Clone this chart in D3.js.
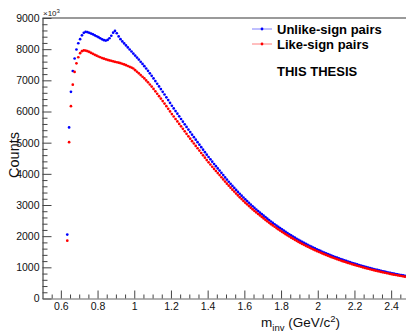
<!DOCTYPE html>
<html>
<head>
<meta charset="utf-8">
<script src="https://cdn.jsdelivr.net/npm/d3@7"></script>
<style>
  html, body { margin: 0; padding: 0; background: #fff; }
  svg { display: block; font-family: "Liberation Sans", Arial, Helvetica, sans-serif; }
</style>
</head>
<body>
<div id="chart"></div>
<script>
// ---------------- DATA ----------------
// invariant-mass bin centres (GeV/c^2)
const massCenters = [
  0.635,0.645,0.655,0.665,0.675,0.685,0.695,0.705,0.715,0.725,0.735,0.745,0.755,0.765,0.775,0.785,0.795,0.805,0.815,0.825,
  0.835,0.845,0.855,0.865,0.875,0.885,0.895,0.905,0.915,0.925,0.935,0.945,0.955,0.965,0.975,0.985,0.995,
  1.005,1.015,1.025,1.035,1.045,1.055,1.065,1.075,1.085,1.095,1.105,1.115,1.125,1.135,1.145,1.155,1.165,1.175,1.185,1.195,
  1.205,1.215,1.225,1.235,1.245,1.255,1.265,1.275,1.285,1.295,1.305,1.315,1.325,1.335,1.345,1.355,1.365,1.375,1.385,1.395,
  1.405,1.415,1.425,1.435,1.445,1.455,1.465,1.475,1.485,1.495,1.505,1.515,1.525,1.535,1.545,1.555,1.565,1.575,1.585,1.595,
  1.605,1.615,1.625,1.635,1.645,1.655,1.665,1.675,1.685,1.695,1.705,1.715,1.725,1.735,1.745,1.755,1.765,1.775,1.785,1.795,
  1.805,1.815,1.825,1.835,1.845,1.855,1.865,1.875,1.885,1.895,1.905,1.915,1.925,1.935,1.945,1.955,1.965,1.975,1.985,1.995,
  2.005,2.015,2.025,2.035,2.045,2.055,2.065,2.075,2.085,2.095,2.105,2.115,2.125,2.135,2.145,2.155,2.165,2.175,2.185,2.195,
  2.205,2.215,2.225,2.235,2.245,2.255,2.265,2.275,2.285,2.295,2.305,2.315,2.325,2.335,2.345,2.355,2.365,2.375,2.385,2.395,
  2.405,2.415,2.425,2.435,2.445,2.455,2.465,2.475,2.485,2.495
];

// Unlike-sign pairs (counts, in units of 10^3)
const unlikeSign = [
  2050,5490,6630,7300,7700,7990,8190,8320,8445,8525,8555,8545,8525,8500,8475,8445,8415,8385,8350,8315,
  8290,8275,8295,8350,8430,8530,8585,8510,8410,8320,8250,8185,8120,8055,7990,7925,7860,
  7795,7730,7665,7595,7525,7455,7380,7305,7225,7145,7060,6975,6890,6805,6720,6630,6545,6455,6365,6275,
  6185,6100,6015,5930,5845,5760,5675,5590,5505,5420,5340,5255,5175,5095,5015,4935,4855,4775,4695,4615,
  4540,4465,4390,4315,4245,4175,4105,4032,3960,3885,3815,3746,3679,3613,3548,3484,3421,3359,3299,3240,
  3182,3125,3069,3014,2960,2907,2855,2804,2754,2705,2656,2608,2561,2515,2470,2426,2382,2339,2297,2256,
  2215,2175,2136,2098,2060,2023,1987,1951,1916,1882,1848,1816,1784,1753,1723,1693,1664,1635,1607,1579,
  1552,1526,1500,1475,1450,1425,1401,1377,1354,1331,1309,1287,1266,1245,1225,1205,1185,1166,1147,1128,
  1110,1092,1075,1058,1041,1024,1008,992,976,960,945,930,916,902,888,874,861,848,835,822,
  809,797,785,773,762,751,740,729,718,707
];

// Like-sign pairs (counts, in units of 10^3)
const likeSign = [
  1855,5015,6170,6860,7270,7545,7740,7870,7935,7960,7955,7935,7910,7880,7850,7820,7790,7765,7740,7715,
  7695,7675,7655,7640,7625,7610,7595,7580,7565,7550,7530,7510,7485,7460,7435,7410,7380,
  7325,7275,7225,7170,7115,7060,6998,6935,6867,6799,6724,6647,6570,6493,6416,6333,6254,6170,6086,6002,
  5918,5839,5760,5681,5602,5523,5443,5364,5284,5204,5129,5048,4973,4897,4821,4745,4669,4593,4517,4441,
  4370,4299,4228,4157,4091,4025,3959,3890,3822,3751,3685,3619,3555,3492,3430,3368,3307,3247,3189,3132,
  3076,3021,2967,2914,2862,2811,2761,2712,2664,2616,2568,2521,2475,2430,2386,2344,2302,2260,2220,2180,
  2140,2101,2063,2026,1989,1953,1918,1883,1849,1816,1783,1752,1721,1691,1662,1633,1605,1577,1550,1523,
  1497,1472,1446,1422,1398,1374,1351,1327,1305,1283,1261,1240,1220,1199,1180,1161,1141,1123,1104,1086,
  1068,1051,1034,1018,1001,985,969,954,938,923,908,894,880,867,853,840,827,815,802,790,
  777,766,754,743,732,722,711,700,690,679
];

const seriesNames = ["Unlike-sign pairs", "Like-sign pairs"];
const seriesColors = ["#0000ff", "#ff0000"];
const legendLineColors = ["#7f7fff", "#ff7f7f"];

const xMajorTicks = [0.6, 0.8, 1.0, 1.2, 1.4, 1.6, 1.8, 2.0, 2.2, 2.4];
const xTickLabels = ["0.6", "0.8", "1", "1.2", "1.4", "1.6", "1.8", "2", "2.2", "2.4"];
const xMinorTicks = [0.55,0.65,0.7,0.75,0.85,0.9,0.95,1.05,1.1,1.15,1.25,1.3,1.35,1.45,1.5,1.55,1.65,1.7,1.75,1.85,1.9,1.95,2.05,2.1,2.15,2.25,2.3,2.35,2.45,2.5];
const yMajorTicks = [0, 1000, 2000, 3000, 4000, 5000, 6000, 7000, 8000, 9000];
const yTickLabels = ["0", "1000", "2000", "3000", "4000", "5000", "6000", "7000", "8000", "9000"];
const yMinorTicks = [];
for (let v = 200; v < 9000; v += 200) if (v % 1000 !== 0) yMinorTicks.push(v);

// ---------------- CHART ----------------
const W = 406, H = 333;
const svg = d3.select("#chart").append("svg").attr("width", W).attr("height", H);

const x = d3.scaleLinear().domain([0.5, 2.5]).range([42.5, 409.5]);
const y = d3.scaleLinear().domain([0, 9000]).range([298.5, 18]);

// top frame line
svg.append("line")
  .attr("x1", x(0.5)).attr("x2", W + 5)
  .attr("y1", y(9000)).attr("y2", y(9000))
  .attr("stroke", "#9a9a9a").attr("stroke-width", 2);

// points
const series = [unlikeSign, likeSign];
series.forEach((vals, si) => {
  svg.append("g").selectAll("circle")
    .data(massCenters.map((m, i) => [m, vals[i]]))
    .join("circle")
    .attr("cx", d => x(d[0]))
    .attr("cy", d => y(d[1]))
    .attr("r", 1.35)
    .attr("fill", seriesColors[si]);
});

// Y axis
const yAxis = svg.append("g").attr("transform", `translate(${x(0.5)},0)`)
  .call(d3.axisLeft(y).tickValues(yMajorTicks)
    .tickFormat((d, i) => yTickLabels[i]).tickSizeInner(-9).tickSizeOuter(0).tickPadding(3));
yAxis.select(".domain").attr("stroke", "#222");
yAxis.selectAll(".tick line").attr("stroke", "#444");
yAxis.selectAll("text").attr("font-size", "10.5px").attr("fill", "#111")
  .attr("font-family", "Liberation Sans, Arial, sans-serif");
const yMinor = svg.append("g").attr("transform", `translate(${x(0.5)},0)`)
  .call(d3.axisLeft(y).tickValues(yMinorTicks).tickFormat("").tickSizeInner(-5).tickSizeOuter(0));
yMinor.select(".domain").remove();
yMinor.selectAll(".tick line").attr("stroke", "#444");

// X axis
const xAxis = svg.append("g").attr("transform", `translate(0,${y(0)})`)
  .call(d3.axisBottom(x).tickValues(xMajorTicks)
    .tickFormat((d, i) => xTickLabels[i]).tickSizeInner(-8).tickSizeOuter(0).tickPadding(4));
xAxis.select(".domain").attr("stroke", "#666").attr("stroke-width", 1.2);
xAxis.selectAll(".tick line").attr("stroke", "#444");
xAxis.selectAll("text").attr("font-size", "10.5px").attr("fill", "#111")
  .attr("font-family", "Liberation Sans, Arial, sans-serif");
const xMinor = svg.append("g").attr("transform", `translate(0,${y(0)})`)
  .call(d3.axisBottom(x).tickValues(xMinorTicks).tickFormat("").tickSizeInner(-4).tickSizeOuter(0));
xMinor.select(".domain").remove();
xMinor.selectAll(".tick line").attr("stroke", "#444");

// x10^3 exponent label
const ex = svg.append("text").attr("x", x(0.5) + 0.5).attr("y", 16)
  .attr("font-size", "8px").attr("fill", "#222");
ex.append("tspan").text("\u00d710");
ex.append("tspan").attr("dy", -3).attr("font-size", "6px").text("3");

// Axis titles
svg.append("text")
  .attr("transform", `translate(19,155) rotate(-90)`)
  .attr("text-anchor", "middle")
  .attr("font-size", "14.5px").attr("fill", "#111")
  .text("Counts");

const xt = svg.append("text").attr("x", 340).attr("y", 327)
  .attr("text-anchor", "end").attr("font-size", "13.5px").attr("fill", "#111");
xt.append("tspan").text("m");
xt.append("tspan").attr("dy", 3.5).attr("font-size", "9.5px").text("inv");
xt.append("tspan").attr("dy", -3.5).text(" (GeV/c");
xt.append("tspan").attr("dy", -5).attr("font-size", "9.5px").text("2");
xt.append("tspan").attr("dy", 5).text(")");

// Legend
const legendY = [29, 44];
seriesNames.forEach((name, i) => {
  const g = svg.append("g");
  g.append("line").attr("x1", 252).attr("x2", 272)
    .attr("y1", legendY[i]).attr("y2", legendY[i])
    .attr("stroke", legendLineColors[i]).attr("stroke-width", 1);
  g.append("circle").attr("cx", 262).attr("cy", legendY[i]).attr("r", 1.4)
    .attr("fill", seriesColors[i]);
  g.append("text").attr("x", 277).attr("y", legendY[i] + 4.5)
    .attr("font-size", "13px").attr("font-weight", "bold").attr("fill", "#000")
    .text(name);
});
svg.append("text").attr("x", 277).attr("y", 75.5)
  .attr("font-size", "13px").attr("font-weight", "bold").attr("fill", "#000")
  .text("THIS THESIS");
</script>
</body>
</html>
